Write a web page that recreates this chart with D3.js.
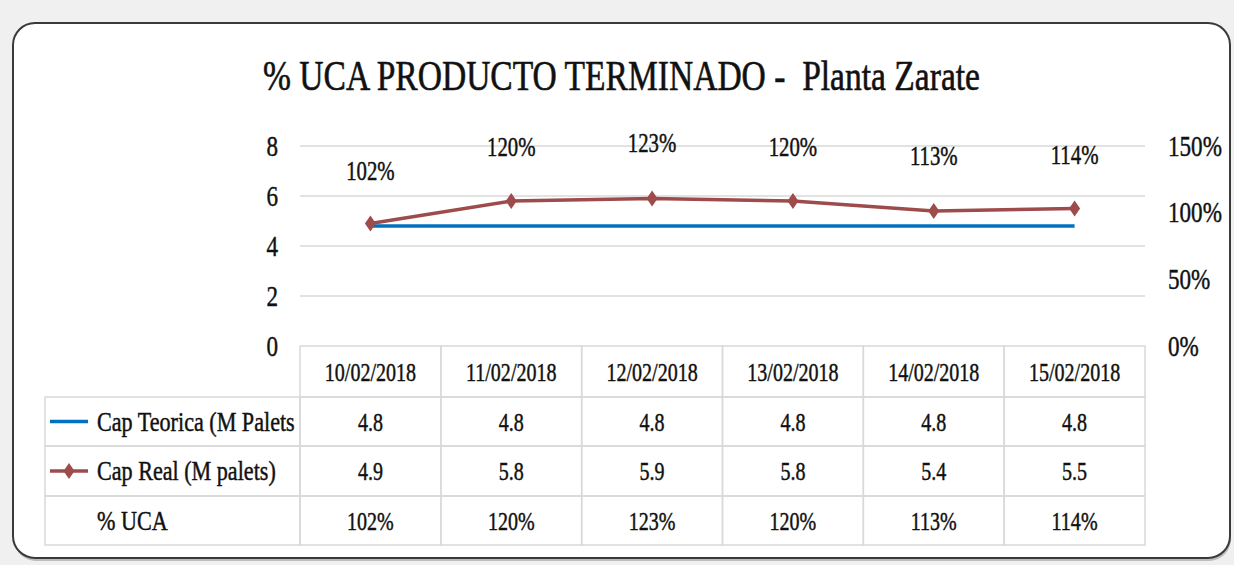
<!DOCTYPE html>
<html lang="es">
<head>
<meta charset="UTF-8">
<title>% UCA Producto Terminado - Planta Zarate</title>
<script src="https://d3js.org/d3.v7.min.js"></script>
<style>
  html, body { margin: 0; padding: 0; background: #f0f0f0; }
  svg { display: block; }
  text { font-family: "Liberation Serif", "DejaVu Serif", serif; fill: #111; stroke: #111; stroke-width: 0.45px; white-space: pre; }
</style>
</head>
<body>
<div id="chart"></div>
<script>
// Data
const dates = ["10/02/2018", "11/02/2018", "12/02/2018", "13/02/2018", "14/02/2018", "15/02/2018"];
const capTeorica = [4.8, 4.8, 4.8, 4.8, 4.8, 4.8];
const capReal = [4.9, 5.8, 5.9, 5.8, 5.4, 5.5];
const ucaPct = [1.02, 1.20, 1.23, 1.20, 1.13, 1.14];
const leftTicks = [0, 2, 4, 6, 8];
const rightTicks = [0, 0.5, 1, 1.5];
const rowNames = ["Cap Teorica (M Palets", "Cap Real (M palets)", "% UCA"];

const W = 1234, H = 565;
const blue = "#0070c0", red = "#9e4b4b", grid = "#d9d9d9";
const SX = 0.77; // the reference text is horizontally condensed

const svg = d3.select("#chart").append("svg")
  .attr("width", W).attr("height", H);

// frame with a soft shadow at the bottom
svg.append("rect")
  .attr("x", 14).attr("y", 26).attr("width", 1217).attr("height", 535)
  .attr("rx", 22).attr("fill", "#bdbdbd");
svg.append("rect")
  .attr("x", 13).attr("y", 23).attr("width", 1217).attr("height", 535)
  .attr("rx", 22).attr("fill", "#fff")
  .attr("stroke", "#3a3a3a").attr("stroke-width", 2);

// title
svg.append("text")
  .attr("x", 263).attr("y", 90)
  .attr("font-size", 42)
  .attr("textLength", 717).attr("lengthAdjust", "spacingAndGlyphs")
  .style("stroke-width", "0.6px")
  .text("% UCA PRODUCTO TERMINADO -  Planta Zarate");

// scales
const x = d3.scaleBand().domain(dates).range([300, 1145]).padding(0);
const cx = d => x(d) + x.bandwidth() / 2;
const y = d3.scaleLinear().domain([0, 8]).range([346, 146]);
const y2 = d3.scaleLinear().domain([0, 1.5]).range([346, 146]);

function label(g, px, py, txt, size, anchor, sx) {
  return g.append("text")
    .attr("transform", `translate(${px},${py}) scale(${sx || SX},1)`)
    .attr("font-size", size)
    .attr("text-anchor", anchor || "middle")
    .text(txt);
}

// gridlines
svg.append("g").selectAll("line")
  .data(leftTicks.filter(t => t > 0))
  .join("line")
  .attr("x1", 300).attr("x2", 1145)
  .attr("y1", d => y(d)).attr("y2", d => y(d))
  .attr("stroke", grid).attr("stroke-width", 1.5);

// left axis
svg.append("g")
  .attr("transform", "translate(278,0)")
  .call(d3.axisLeft(y).tickValues(leftTicks).tickSize(0).tickPadding(0))
  .call(g => g.select(".domain").remove())
  .call(g => g.selectAll("text")
    .attr("font-size", 30).attr("fill", "#111")
    .attr("font-family", "Liberation Serif")
    .attr("dy", "0.3em")
    .attr("transform", `scale(${SX},1)`));

// right axis
svg.append("g")
  .attr("transform", "translate(1168,0)")
  .call(d3.axisRight(y2).tickValues(rightTicks).tickSize(0).tickPadding(0)
    .tickFormat(d3.format(".0%")))
  .call(g => g.select(".domain").remove())
  .call(g => g.selectAll("text")
    .attr("font-size", 30).attr("fill", "#111")
    .attr("font-family", "Liberation Serif")
    .attr("dy", "0.3em")
    .attr("transform", `scale(${SX},1)`));

// Cap Teorica line
svg.append("path")
  .attr("d", d3.line().x((d, i) => cx(dates[i])).y(d => y(d))(capTeorica))
  .attr("fill", "none").attr("stroke", blue).attr("stroke-width", 3.5);

// Cap Real line + diamonds
svg.append("path")
  .attr("d", d3.line().x((d, i) => cx(dates[i])).y(d => y(d))(capReal))
  .attr("fill", "none").attr("stroke", red).attr("stroke-width", 3.5);

const diamond = "M0,-8L5.5,0L0,8L-5.5,0Z";
svg.append("g").selectAll("path")
  .data(capReal)
  .join("path")
  .attr("transform", (d, i) => `translate(${cx(dates[i])},${y(d)})`)
  .attr("d", diamond)
  .attr("fill", red);

// % UCA data labels (hidden series on secondary axis)
const lbl = svg.append("g");
ucaPct.forEach((v, i) => {
  label(lbl, cx(dates[i]), y2(v) - 30, d3.format(".0%")(v), 27);
});

// data table
const tbl = svg.append("g");
const rowTop = [346, 397, 446, 496, 545];
const border = "#d9d9d9";

// header cells (date columns only)
dates.forEach(d => {
  tbl.append("rect")
    .attr("x", x(d)).attr("y", rowTop[0])
    .attr("width", x.bandwidth()).attr("height", rowTop[1] - rowTop[0])
    .attr("fill", "none").attr("stroke", border).attr("stroke-width", 1.5);
  label(tbl, cx(d), (rowTop[0] + rowTop[1]) / 2 + 9, d, 26);
});

const rows = [capTeorica.map(v => v.toFixed(1)), capReal.map(v => v.toFixed(1)), ucaPct.map(d3.format(".0%"))];
rows.forEach((vals, r) => {
  const y0 = rowTop[r + 1], y1 = rowTop[r + 2], mid = (y0 + y1) / 2;
  tbl.append("rect")
    .attr("x", 45).attr("y", y0).attr("width", 255).attr("height", y1 - y0)
    .attr("fill", "none").attr("stroke", border).attr("stroke-width", 1.5);
  label(tbl, 97, mid + 9, rowNames[r], 27, "start", 0.82);
  dates.forEach((d, i) => {
    tbl.append("rect")
      .attr("x", x(d)).attr("y", y0).attr("width", x.bandwidth()).attr("height", y1 - y0)
      .attr("fill", "none").attr("stroke", border).attr("stroke-width", 1.5);
    label(tbl, cx(d), mid + 9, vals[i], 26);
  });
});

// legend keys
const k1 = (rowTop[1] + rowTop[2]) / 2, k2 = (rowTop[2] + rowTop[3]) / 2;
tbl.append("line").attr("x1", 50).attr("x2", 88).attr("y1", k1).attr("y2", k1)
  .attr("stroke", blue).attr("stroke-width", 3.5);
tbl.append("line").attr("x1", 50).attr("x2", 88).attr("y1", k2).attr("y2", k2)
  .attr("stroke", red).attr("stroke-width", 3.5);
tbl.append("path").attr("transform", `translate(69,${k2})`).attr("d", diamond).attr("fill", red);
</script>
</body>
</html>
